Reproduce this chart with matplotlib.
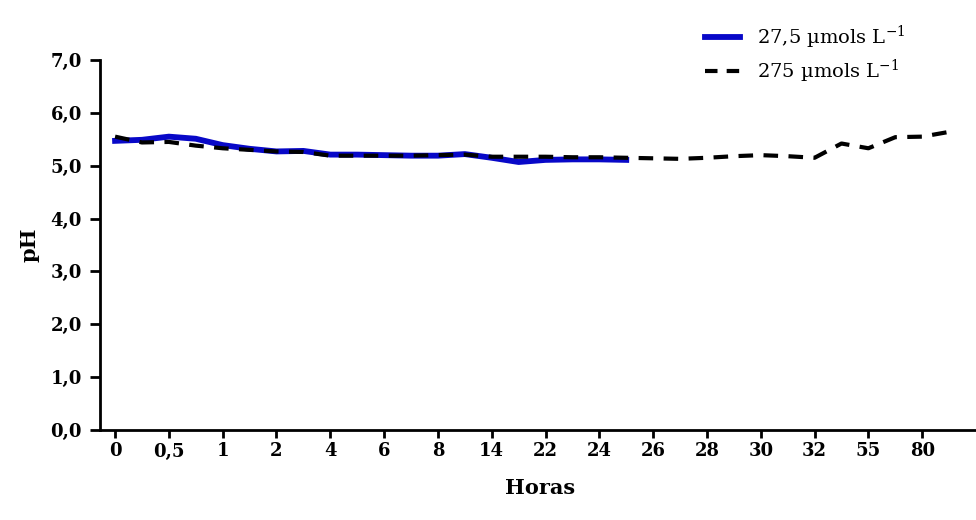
import numpy as np
import matplotlib
matplotlib.use('Agg')
from matplotlib import pyplot as plt
from matplotlib.lines import Line2D

plt.rcParams['font.family'] = ['DejaVu Serif']
plt.rcParams['mathtext.fontset'] = 'dejavuserif'

# tick labels (hours) shown on every other sample
hour_labels = ['0', '0,5', '1', '2', '4', '6', '8', '14', '22', '24',
               '26', '28', '30', '32', '55', '80']

ph_low = [5.47, 5.49, 5.55, 5.51, 5.39, 5.32, 5.27, 5.28, 5.21, 5.21,
          5.20, 5.19, 5.19, 5.22, 5.15, 5.07, 5.11, 5.12, 5.12, 5.11]

ph_high = [5.55, 5.44, 5.45, 5.38, 5.33, 5.30, 5.27, 5.26, 5.19, 5.19,
           5.19, 5.19, 5.20, 5.21, 5.17, 5.17, 5.17, 5.16, 5.16, 5.15,
           5.14, 5.13, 5.15, 5.18, 5.20, 5.18, 5.15, 5.42, 5.33, 5.54,
           5.55, 5.64]

label_low = '27,5 µmols L$^{\\mathregular{-1}}$'
label_high = '275 µmols L$^{\\mathregular{-1}}$'

fig = plt.figure(figsize=(9.76, 5.2), dpi=100)
ax = fig.add_axes([100 / 976, 1 - 430 / 520, 1 - 100 / 976, 370 / 520])

dash = (0, (3.5, 2.5))
ax.plot(np.arange(len(ph_low)), ph_low, color='#0808c8', lw=4.2,
        solid_joinstyle='round', zorder=2)
ax.plot(np.arange(len(ph_high)), ph_high, color='black', lw=3,
        linestyle=dash, zorder=3)

ax.set_xlim(-0.56, 32.0)
ax.set_ylim(0, 7)
ax.set_xticks(np.arange(0, 2 * len(hour_labels), 2))
ax.set_xticklabels(hour_labels)
ax.set_yticks(np.arange(0, 8, 1))
ax.set_yticklabels([f'{v:.1f}'.replace('.', ',') for v in range(8)])

for s in ['top', 'right']:
    ax.spines[s].set_visible(False)
for s in ['left', 'bottom']:
    ax.spines[s].set_linewidth(2)

ax.tick_params(axis='y', direction='out', length=7, width=2, pad=6, labelsize=13)
ax.tick_params(axis='x', direction='out', length=6, width=2, pad=3, labelsize=13)
for lbl in ax.get_xticklabels() + ax.get_yticklabels():
    lbl.set_fontweight('bold')

fig.text(540 / 976, 1 - 488 / 520, 'Horas', ha='center', va='center',
         fontsize=15, fontweight='bold')
fig.text(30 / 976, 1 - 245 / 520, 'pH', ha='center', va='center',
         fontsize=15, fontweight='bold', rotation=90)

handles = [Line2D([], [], color='#0808c8', lw=4.2),
           Line2D([], [], color='black', lw=3, linestyle=(0, (3, 2.2)))]
fig.legend(handles, [label_low, label_high], loc='upper left',
           bbox_to_anchor=(705 / 976, 1 - 24 / 520), frameon=False,
           borderpad=0, borderaxespad=0, handlelength=1.8,
           handletextpad=0.85, labelspacing=0.35, fontsize=14)

fig.savefig('out.png', dpi=100)
